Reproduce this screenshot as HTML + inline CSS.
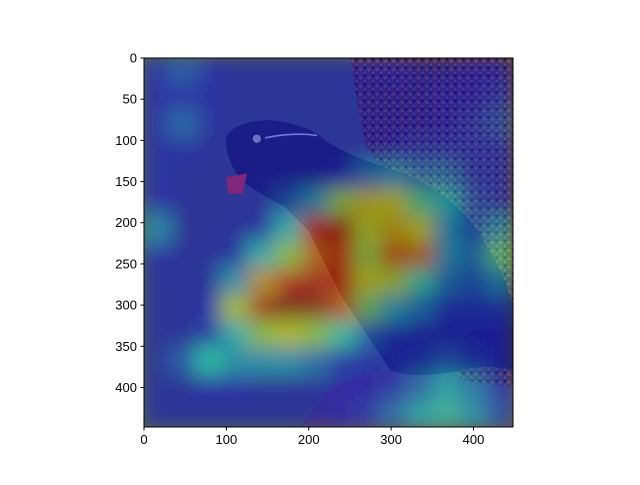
<!DOCTYPE html>
<html><head><meta charset="utf-8"><style>
body{margin:0;background:#fff;}
svg{font-family:"Liberation Sans","DejaVu Sans",sans-serif;}
</style></head><body>
<svg width="640" height="480" viewBox="0 0 640 480">
<defs>
<filter id="blur" x="-5%" y="-5%" width="110%" height="110%"><feGaussianBlur stdDeviation="11"/></filter>
<clipPath id="clip"><rect x="0" y="0" width="448" height="448"/></clipPath>
<pattern id="rockpat" width="10" height="10" patternUnits="userSpaceOnUse">
<rect width="10" height="10" fill="#6a4a20"/><circle cx="3" cy="4" r="2" fill="#a07030"/><circle cx="8" cy="8" r="1.2" fill="#8a8a70"/><circle cx="8" cy="2" r="1.5" fill="#2a1a08"/>
</pattern>
</defs>
<g transform="translate(144,58) scale(0.8237)" clip-path="url(#clip)">
<g id="photo">
<rect x="0" y="0" width="448" height="448" fill="#5c6c48"/>
<path d="M250,0 L448,0 L448,448 L400,448 L330,200 L300,150 L270,110 L260,60 Z" fill="url(#rockpat)"/>
<path d="M190,448 L230,395 L300,380 L380,390 L448,400 L448,448 Z" fill="#6a5a48"/>
<path d="M100,95 Q110,78 150,75 Q200,80 220,100 Q250,120 300,135 Q350,150 390,190 Q430,240 448,300 L448,380 Q420,370 380,380 Q330,390 300,380 L270,335 L240,290 L200,210 L170,180 Q140,165 120,150 Q98,125 100,95 Z" fill="#3a3a28"/>
<path d="M100,145 L125,140 L120,165 L102,165 Z" fill="#ff5010"/>
<circle cx="137" cy="98" r="5" fill="#e0e0a0"/>
<path d="M147,97 Q180,90 210,94" stroke="#f0f0d0" stroke-width="2" fill="none"/>
</g>
<g id="heat" filter="url(#blur)" opacity="0.5"></g>
</g>
<rect x="144" y="58" width="369" height="369" fill="none" stroke="#000" stroke-width="1"/>
<g id="xticks"></g>
<g id="yticks"></g>
</svg>
<script>
const xTickValues=[0,100,200,300,400];
const yTickValues=[0,50,100,150,200,250,300,350,400];
const cellSize=32;
const heatRows=[
[0.13,0.2,0.12,0.1,0.1,0.1,0.1,0.1,0.12,0.12,0.1,0.1,0.12,0.12],
[0.13,0.13,0.12,0.1,0.1,0.1,0.1,0.1,0.1,0.1,0.1,0.12,0.12,0.15],
[0.13,0.22,0.12,0.1,0.1,0.1,0.1,0.1,0.1,0.1,0.1,0.12,0.15,0.2],
[0.12,0.12,0.1,0.1,0.1,0.1,0.1,0.1,0.1,0.12,0.15,0.15,0.15,0.15],
[0.12,0.1,0.1,0.1,0.1,0.1,0.1,0.12,0.25,0.3,0.25,0.25,0.15,0.15],
[0.13,0.1,0.1,0.1,0.1,0.2,0.3,0.55,0.65,0.62,0.45,0.35,0.2,0.15],
[0.28,0.1,0.1,0.1,0.12,0.35,0.88,0.92,0.6,0.68,0.62,0.3,0.2,0.3],
[0.13,0.1,0.1,0.12,0.35,0.55,0.78,0.85,0.55,0.78,0.75,0.3,0.25,0.45],
[0.1,0.1,0.1,0.3,0.7,0.88,0.9,0.88,0.62,0.58,0.4,0.25,0.2,0.28],
[0.1,0.1,0.12,0.6,0.9,0.97,0.95,0.8,0.5,0.32,0.25,0.15,0.15,0.15],
[0.1,0.1,0.15,0.35,0.55,0.62,0.55,0.4,0.22,0.15,0.12,0.12,0.12,0.12],
[0.1,0.2,0.38,0.3,0.3,0.3,0.25,0.15,0.12,0.12,0.15,0.2,0.15,0.12],
[0.1,0.1,0.12,0.12,0.1,0.1,0.1,0.12,0.12,0.15,0.25,0.35,0.28,0.15],
[0.1,0.1,0.1,0.1,0.1,0.1,0.1,0.12,0.15,0.25,0.35,0.4,0.32,0.2]
];
const NS='http://www.w3.org/2000/svg';
const x0=144,y0=58,scale=369/448;
const xPix=v=>x0+v*scale, yPix=v=>y0+v*scale;
function jet(v){
  const r=Math.max(0,Math.min(1,1.5-Math.abs(4*v-3)));
  const g=Math.max(0,Math.min(1,1.5-Math.abs(4*v-2)));
  const b=Math.max(0,Math.min(1,1.5-Math.abs(4*v-1)));
  return `rgb(${Math.round(r*255)},${Math.round(g*255)},${Math.round(b*255)})`;
}
const heat=document.getElementById('heat');
heatRows.forEach((row,r)=>row.forEach((v,c)=>{
  const rect=document.createElementNS(NS,'rect');
  rect.setAttribute('x',c*cellSize-1);rect.setAttribute('y',r*cellSize-1);
  rect.setAttribute('width',cellSize+2);rect.setAttribute('height',cellSize+2);
  rect.setAttribute('fill',jet(v));
  
  
  heat.appendChild(rect);
}));
const xt=document.getElementById('xticks');
xTickValues.forEach(v=>{
  const x=xPix(v);
  const l=document.createElementNS(NS,'line');
  l.setAttribute('x1',x);l.setAttribute('x2',x);l.setAttribute('y1',427);l.setAttribute('y2',430.5);
  l.setAttribute('stroke','#000');
  
  
  xt.appendChild(l);
  const t=document.createElementNS(NS,'text');
  t.setAttribute('x',x);t.setAttribute('y',444);t.setAttribute('text-anchor','middle');t.setAttribute('font-size','13');
  t.textContent=v;
  
  
  xt.appendChild(t);
});
const yt=document.getElementById('yticks');
yTickValues.forEach(v=>{
  const y=yPix(v);
  const l=document.createElementNS(NS,'line');
  l.setAttribute('x1',140.5);l.setAttribute('x2',144);l.setAttribute('y1',y);l.setAttribute('y2',y);
  l.setAttribute('stroke','#000');
  
  
  yt.appendChild(l);
  const t=document.createElementNS(NS,'text');
  t.setAttribute('x',137);t.setAttribute('y',y+4.5);t.setAttribute('text-anchor','end');t.setAttribute('font-size','13');
  t.textContent=v;
  
  
  yt.appendChild(t);
});
</script>
</body></html>
